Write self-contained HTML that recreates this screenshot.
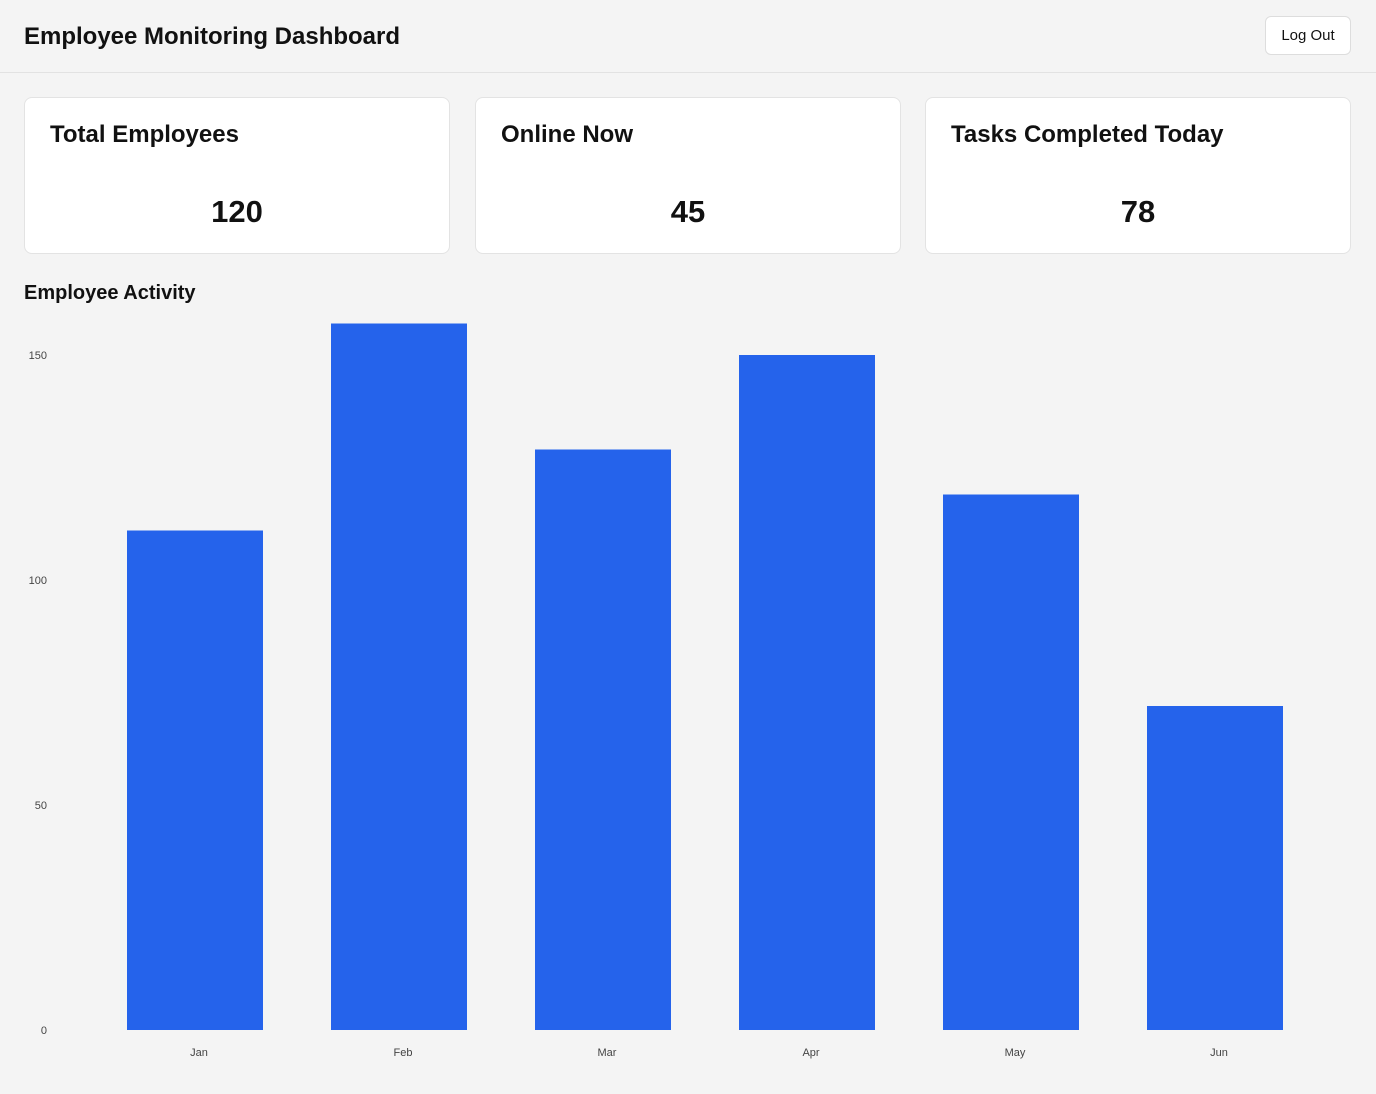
<!DOCTYPE html>
<html><head><meta charset="utf-8"><style>
body{margin:0;width:1376px;height:1094px;background:#f4f4f4;font-family:"Liberation Sans",sans-serif;color:#111;position:relative;overflow:hidden}
.hdr{position:absolute;left:0;top:0;width:1376px;height:72px;border-bottom:1px solid #e2e2e2}
.hdr h1{position:absolute;left:24px;top:23px;margin:0;font-size:24px;font-weight:bold}
.btn{position:absolute;left:1265px;top:16px;width:86px;height:39px;border:1px solid #ddd;border-radius:6px;background:#fff;font-size:15px;display:flex;align-items:center;justify-content:center;box-sizing:border-box}
.card{position:absolute;top:97px;width:426px;height:157px;background:#fff;border:1px solid #e3e3e3;border-radius:8px;box-sizing:border-box}
.card h2{margin:0;position:absolute;left:25px;top:23px;font-size:24px;font-weight:bold}
.card .v{position:absolute;left:0;right:0;top:96px;text-align:center;font-size:31px;font-weight:bold}
.ct{position:absolute;left:24px;top:282px;font-size:20px;font-weight:bold}
svg{position:absolute;left:0;top:0}
</style></head><body>
<div class="hdr"><h1>Employee Monitoring Dashboard</h1>
<div class="btn">Log Out</div></div>
<div class="card" style="left:24px"><h2>Total Employees</h2><div class="v">120</div></div>
<div class="card" style="left:475px"><h2>Online Now</h2><div class="v">45</div></div>
<div class="card" style="left:925px"><h2>Tasks Completed Today</h2><div class="v">78</div></div>
<div class="ct">Employee Activity</div>
<svg id="chart" width="1376" height="1094"></svg>
<script>
const categories=["Jan","Feb","Mar","Apr","May","Jun"];
const values=[111,157,129,150,119,72];
const yTicks=[0,50,100,150];
const svg=document.getElementById('chart');
const NS='http://www.w3.org/2000/svg';
const y0=1030, pxPer=4.5;
function yScale(v){return y0-v*pxPer;}
function xBand(i){return 93+204*i;}
yTicks.forEach(t=>{
 const tx=document.createElementNS(NS,'text');
 
 
 tx.setAttribute('x',47);tx.setAttribute('y',yScale(t)+4);
 tx.setAttribute('text-anchor','end');tx.setAttribute('font-size','11');tx.setAttribute('fill','#444');
 tx.setAttribute('font-family','Liberation Sans, sans-serif');
 tx.textContent=t;svg.appendChild(tx);
});
categories.forEach((c,i)=>{
 const r=document.createElementNS(NS,'rect');
 
 
 r.setAttribute('x',xBand(i)+34);r.setAttribute('width',136);
 r.setAttribute('y',yScale(values[i]));r.setAttribute('height',values[i]*pxPer);
 r.setAttribute('fill','#2563eb');svg.appendChild(r);
 const tx=document.createElementNS(NS,'text');
 
 
 tx.setAttribute('x',xBand(i)+106);tx.setAttribute('y',1056);
 tx.setAttribute('text-anchor','middle');tx.setAttribute('font-size','11');tx.setAttribute('fill','#444');
 tx.setAttribute('font-family','Liberation Sans, sans-serif');
 tx.textContent=c;svg.appendChild(tx);
});
</script>
</body></html>
